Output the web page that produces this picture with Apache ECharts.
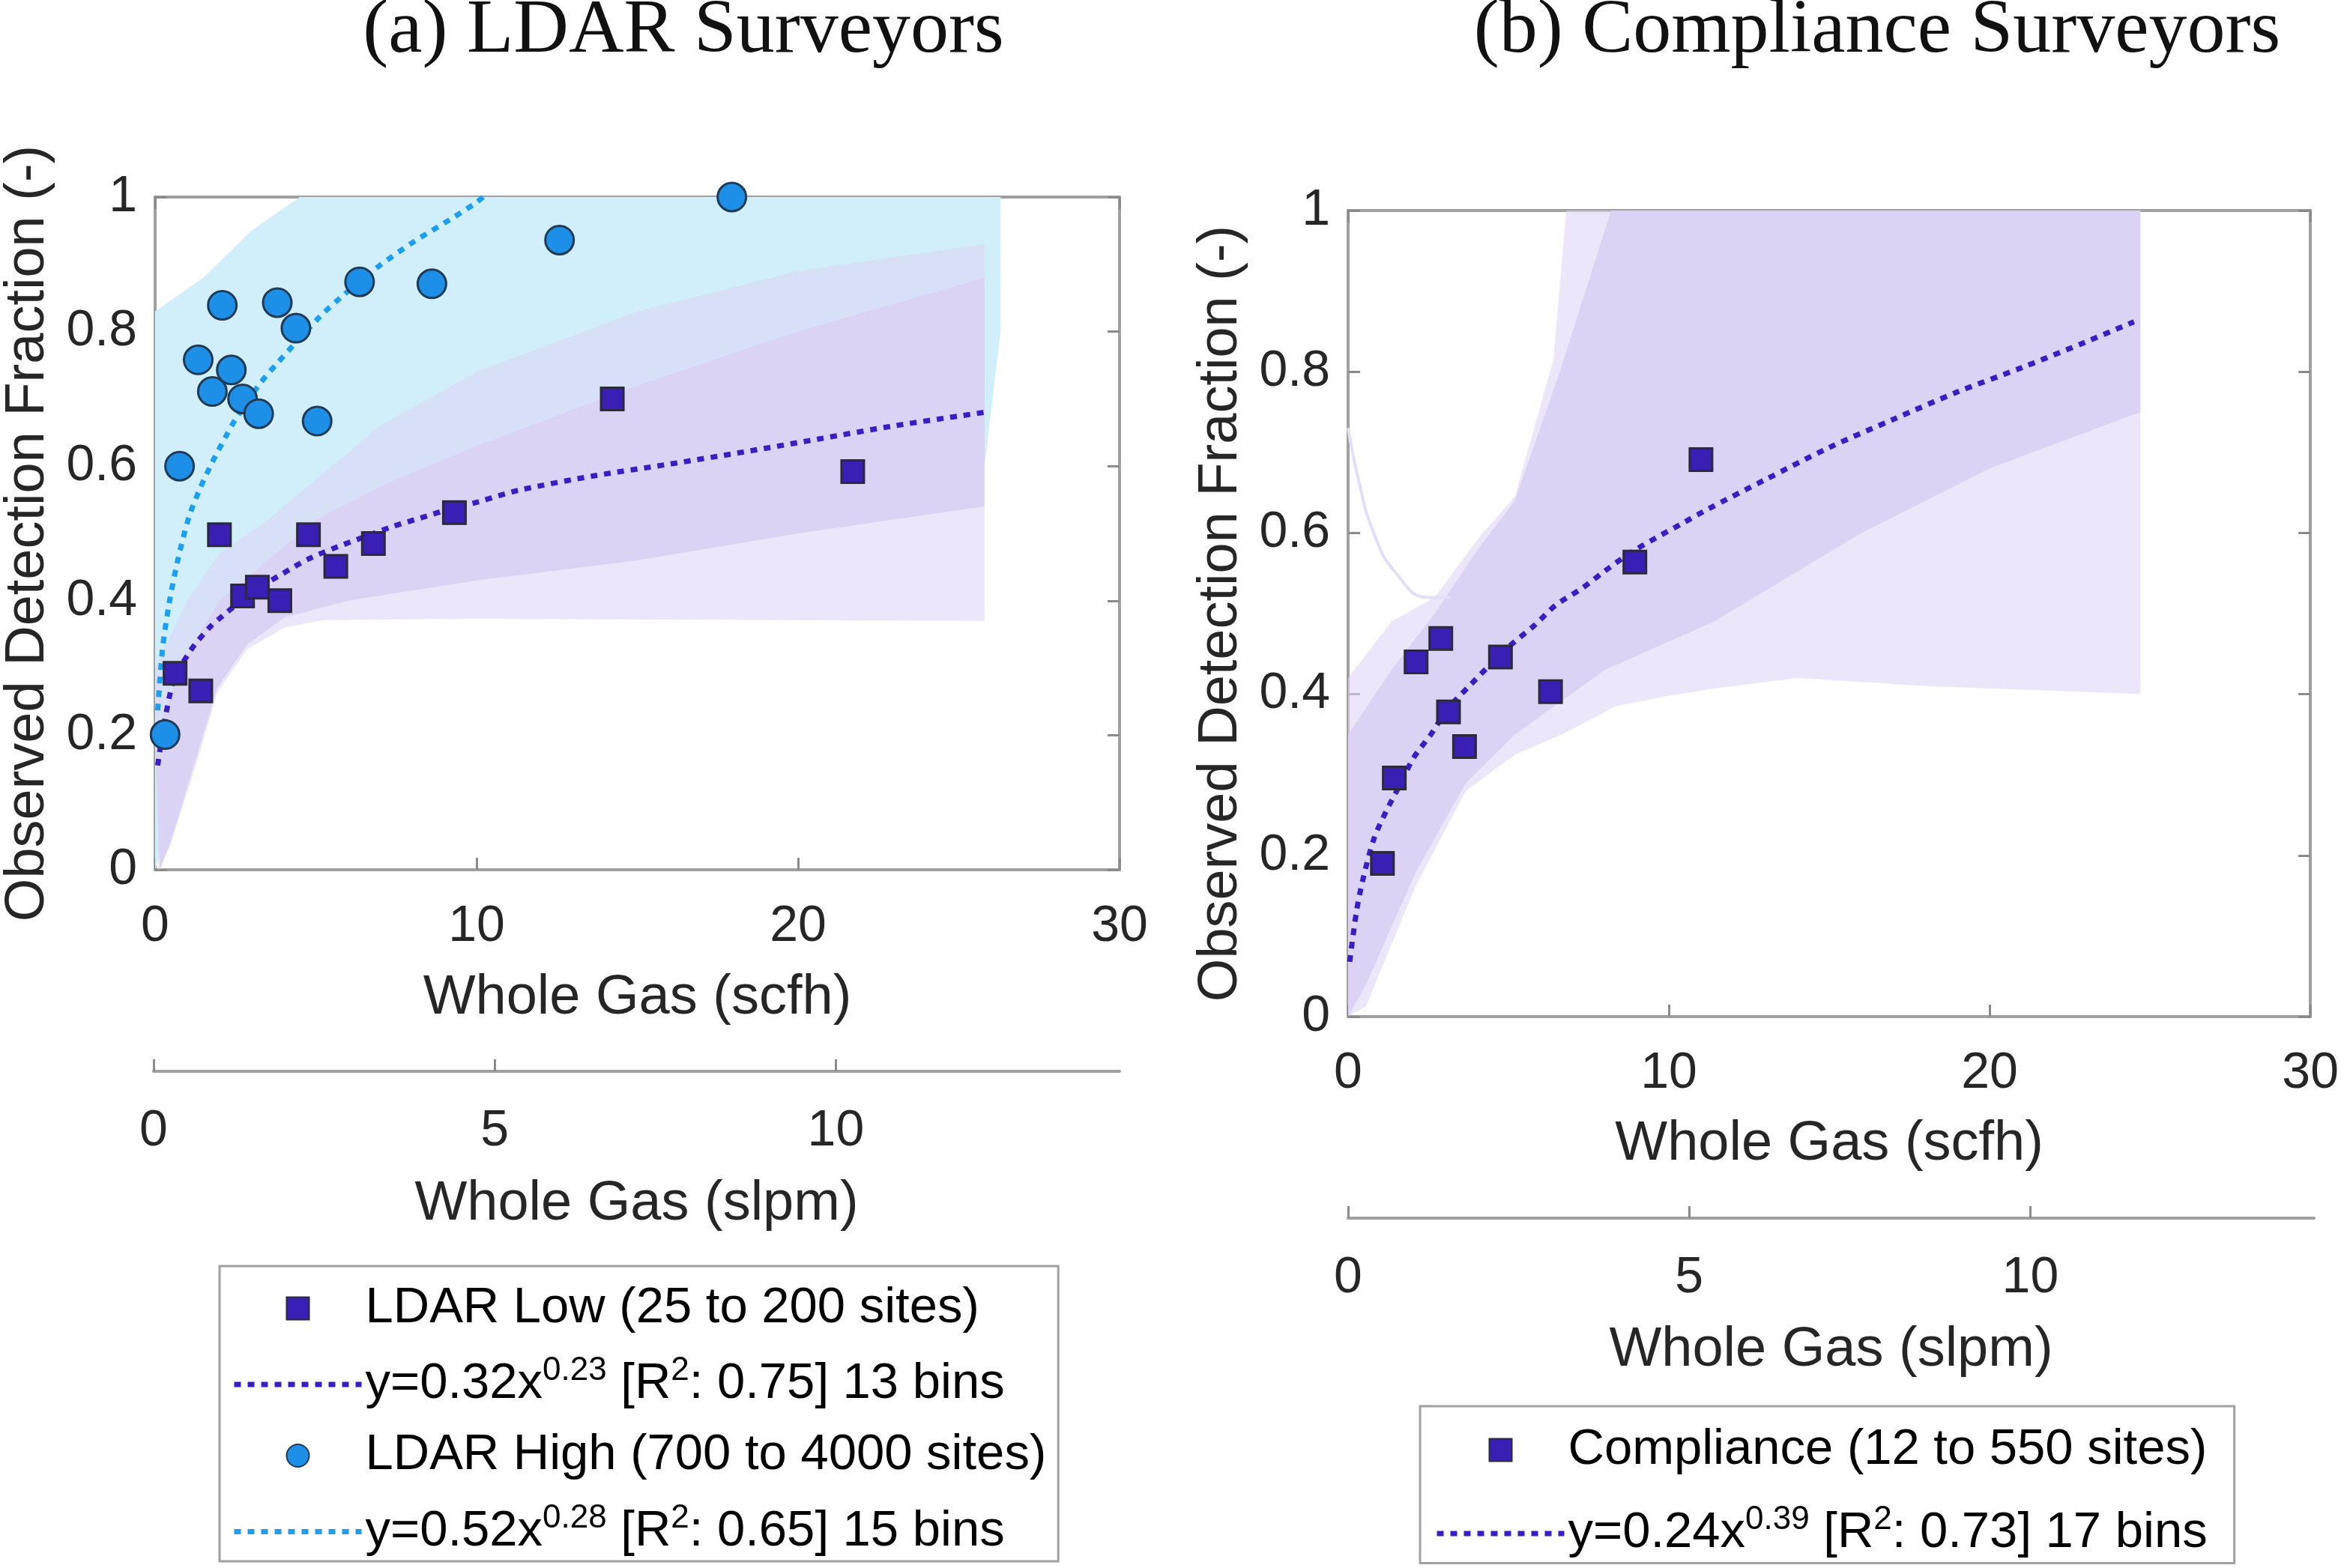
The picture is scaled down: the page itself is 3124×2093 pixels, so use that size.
<!DOCTYPE html>
<html><head><meta charset="utf-8">
<script src="https://cdn.jsdelivr.net/npm/echarts@6/dist/echarts.min.js"></script>
<style>html,body{margin:0;padding:0;background:#fff}#c{width:3124px;height:2093px}</style>
</head><body><div id="c"></div><script>
// ---------- data (x in scfh, y = observed detection fraction) ----------
const xTicksScfh = [0, 10, 20, 30];
const xTicksSlpm = [0, 5, 10];
const SCFH_PER_SLPM = 2.1189;

const ldarLowPts = [[0.62,0.292],[1.42,0.266],[2.0,0.498],[2.72,0.407],[3.18,0.42],[3.88,0.40],[4.77,0.498],[5.62,0.451],[6.79,0.485],[9.31,0.531],[14.22,0.70],[21.7,0.592]];
const ldarHighPts = [[0.31,0.201],[0.76,0.60],[1.34,0.758],[1.78,0.711],[2.09,0.839],[2.37,0.743],[2.72,0.70],[3.22,0.678],[3.8,0.843],[4.38,0.805],[5.04,0.667],[6.36,0.874],[8.61,0.871],[12.58,0.936],[17.94,1.0]];
const complPts = [[1.07,0.19],[1.44,0.296],[2.12,0.44],[2.89,0.469],[3.13,0.378],[3.63,0.335],[4.75,0.446],[6.31,0.403],[8.94,0.564],[11.0,0.691]];

const ldarLowFit = [[0.08,0.155],[0.54,0.276],[1.09,0.325],[1.71,0.361],[2.09,0.377],[3.03,0.413],[3.96,0.44],[4.77,0.462],[5.62,0.479],[6.52,0.495],[7.37,0.51],[8.26,0.523],[9.15,0.536],[10.05,0.547],[11.3,0.564],[13.7,0.586],[16,0.603],[18.3,0.621],[20.6,0.64],[23,0.66],[25.8,0.68]];
const ldarHighFit = [[0.08,0.237],[0.23,0.328],[0.43,0.394],[0.70,0.459],[1.05,0.524],[1.40,0.567],[1.78,0.606],[2.21,0.645],[2.48,0.668],[3.22,0.72],[3.80,0.753],[5.12,0.822],[5.78,0.851],[6.87,0.894],[8.03,0.933],[9.19,0.967],[10.0,0.992],[10.2,1.0]];
const complFit = [[0.05,0.068],[0.26,0.13],[0.45,0.168],[0.80,0.22],[1.19,0.255],[1.65,0.29],[2.04,0.321],[2.58,0.35],[3.13,0.383],[3.75,0.409],[4.44,0.437],[5.07,0.461],[5.80,0.485],[6.46,0.51],[7.28,0.531],[8.01,0.553],[8.79,0.575],[9.60,0.594],[10.38,0.611],[11.19,0.629],[13,0.666],[15,0.706],[17,0.741],[19,0.775],[21,0.805],[23,0.837],[24.5,0.862]];

// bootstrap envelopes
const highBandUpper = [[0,0.83],[1.5,0.88],[3,0.95],[4.5,1.0],[26.3,1.0]];
const highBandLower = [[0,0],[0.2,0.03],[0.8,0.16],[1.6,0.3],[2.5,0.4],[5,0.45],[25.8,0.6],[26.3,0.8]];
const lowBandOuterUpper = [[0,0.3],[1,0.4],[2,0.47],[3.5,0.52],[5,0.58],[7,0.66],[10,0.74],[15,0.83],[20,0.89],[25.8,0.93]];
const lowBandOuterLower = [[0.1,0],[0.47,0.035],[1.33,0.165],[1.93,0.263],[2.86,0.328],[4.03,0.36],[5.19,0.371],[10,0.373],[25.8,0.37]];
const lowBandInnerUpper = [[0,0.2],[1,0.32],[2,0.4],[3.5,0.46],[5,0.52],[7,0.57],[10,0.63],[15,0.72],[20,0.8],[25.8,0.88]];
const lowBandInnerLower = [[0.15,0],[0.5,0.045],[1.33,0.175],[1.93,0.27],[2.86,0.335],[4.03,0.375],[6,0.4],[10,0.43],[15,0.46],[20,0.5],[25.8,0.54]];
const complBandOuterUpper = [[0,0.42],[1.35,0.49],[2.7,0.52],[4.05,0.593],[5.2,0.645],[6.4,0.815],[6.8,1.0],[24.7,1.0]];
const complBandOuterLower = [[0,0],[0.56,0.013],[2.12,0.163],[3.67,0.28],[5.21,0.325],[6.77,0.352],[8.33,0.385],[9.87,0.397],[11.4,0.407],[14,0.42],[18,0.41],[24.7,0.40]];
const complBandInnerUpper = [[0,0.35],[1.35,0.43],[2.7,0.5],[4.05,0.58],[5.2,0.64],[6.6,0.8],[8.2,1.0],[24.7,1.0]];
const complBandInnerLower = [[0,0],[0.56,0.04],[2.12,0.18],[3.67,0.29],[5.2,0.35],[8,0.43],[11.4,0.49],[16,0.6],[20,0.68],[24.7,0.75]];
const complOutlierCurve = [[0,0.73],[0.3,0.67],[0.8,0.6],[1.5,0.55],[2.5,0.52],[3.2,0.52]];

const names = {
  low: 'LDAR Low (25 to 200 sites)', lowFit: 'fitLow',
  high: 'LDAR High (700 to 4000 sites)', highFit: 'fitHigh',
  comp: 'Compliance (12 to 550 sites)', compFit: 'fitCompl'
};
const legendText = {
  fitLow: '{t|y=0.32x}{s|0.23}{t| [R}{s|2}{t|: 0.75] 13 bins}',
  fitHigh: '{t|y=0.52x}{s|0.28}{t| [R}{s|2}{t|: 0.65] 15 bins}',
  fitCompl: '{t|y=0.24x}{s|0.39}{t| [R}{s|2}{t|: 0.73] 17 bins}'
};

// ---------- style ----------
const FONT = 'Liberation Sans, Arial, sans-serif';
const C = { text:'#262626', axis:'#a0a0a0', blue:'#d0effb', purpleIn:'#dbd3f3', purpleOut:'rgba(222,214,245,0.6)',
  sq:'#3a1fb4', circ:'#1e8fe6', lowLine:'#3a1ec4', highLine:'#1c9ff0' };
const SQUARE = 'path://M0,0H10V10H0Z';
const DOT = [9, 9];

function band(upper, lower, fill, xi, yi) {
  return { type:'custom', xAxisIndex:xi, yAxisIndex:yi, silent:true, data:[[0,0]], z:1,
    renderItem: (params, api) => {
      const pts = upper.map(p => api.coord(p)).concat(lower.slice().reverse().map(p => api.coord(p)));
      return { type:'polygon', shape:{ points: pts }, style:{ fill } };
    } };
}
const axisBase = (extra) => Object.assign({
  type:'value', splitLine:{show:false},
  axisLine:{show:true, onZero:false, lineStyle:{color:C.axis, width:4}},
  axisTick:{show:true, inside:true, length:16, lineStyle:{color:'#8a8a8a', width:3}},
  axisLabel:{color:C.text, fontSize:68, fontFamily:FONT},
  nameTextStyle:{color:C.text, fontSize:74, fontFamily:FONT}
}, extra);

const scfhAxis = (g, pos, labels, gap) => axisBase({ gridIndex:g, position:pos, min:0, max:30, interval:10,
  axisLabel:{show:labels, color:C.text, fontSize:68, fontFamily:FONT, margin:42},
  name: labels ? 'Whole Gas (scfh)' : '', nameLocation:'middle', nameGap:gap });
const slpmAxis = (g, gap) => axisBase({ gridIndex:g, position:'bottom', min:0, max:30/SCFH_PER_SLPM,
  axisTick:{show:true, inside:true, length:16, lineStyle:{color:'#8a8a8a', width:3}, customValues:xTicksSlpm},
  axisLabel:{color:C.text, fontSize:68, fontFamily:FONT, margin:46, customValues:xTicksSlpm},
  name:'Whole Gas (slpm)', nameLocation:'middle', nameGap:gap });
const fracAxis = (g, pos, labels) => axisBase({ gridIndex:g, position:pos, min:0, max:1, interval:0.2,
  axisLabel:{show:labels, color:C.text, fontSize:68, fontFamily:FONT, margin:24},
  name: labels ? 'Observed Detection Fraction (-)' : '', nameLocation:'middle', nameGap:132, nameRotate:90 });

const scatter = (name, data, symbol, size, color, border, xi, yi) => ({
  type:'scatter', name, data, symbol, symbolSize:size, xAxisIndex:xi, yAxisIndex:yi, z:5,
  itemStyle:{color, borderColor:border, borderWidth:3, opacity:1} });
const fitLine = (name, data, color, xi, yi) => ({
  type:'line', name, data, xAxisIndex:xi, yAxisIndex:yi, smooth:0.3, symbol:'none', z:4,
  lineStyle:{color, width:7, type:DOT}, itemStyle:{color} });

const lineItem = (name, color) => ({ name, itemStyle:{opacity:0, color:'transparent', borderWidth:0},
  lineStyle:{color, width:7, type:DOT} });
const legendBase = (data, left, top, padding, gap) => ({
  data, orient:'vertical', left, top, height:1200, padding, itemGap:gap, itemWidth:170, itemHeight:30,
  borderColor:'#a0a0a0', borderWidth:3, backgroundColor:'#fff', selectedMode:false,
  textStyle:{color:'#000', fontSize:67, fontFamily:FONT,
    rich:{ t:{fontSize:67, fontFamily:FONT, color:'#000', lineHeight:80},
           s:{fontSize:44, fontFamily:FONT, color:'#000', lineHeight:20, verticalAlign:'top'} } },
  formatter: n => legendText[n] || n
});

const option = {
  animation:false, backgroundColor:'#fff',
  grid:[
    {left:205, top:263, width:1289, height:898},
    {left:205, top:1429, width:1289, height:1},
    {left:1799, top:281, width:1289, height:1076},
    {left:1799, top:1625, width:1289, height:1}
  ],
  xAxis:[ scfhAxis(0,'bottom',true,135), scfhAxis(0,'top',false,0), slpmAxis(1,141),
          scfhAxis(2,'bottom',true,134), scfhAxis(2,'top',false,0), slpmAxis(3,140) ],
  yAxis:[ fracAxis(0,'left',true), fracAxis(0,'right',false), {gridIndex:1, show:false, min:0, max:1},
          fracAxis(2,'left',true), fracAxis(2,'right',false), {gridIndex:3, show:false, min:0, max:1} ],
  legend:[
    legendBase([{name:names.low, icon:SQUARE}, lineItem(names.lowFit, C.lowLine),
                {name:names.high, icon:'circle'}, lineItem(names.highFit, C.highLine)], 293, 1690, [23,16,6,16], 28),
    legendBase([{name:names.comp, icon:SQUARE}, lineItem(names.compFit, C.lowLine)], 1895, 1877, [25,36,6,19], 38)
  ],
  series:[
    band(highBandUpper, highBandLower, C.blue, 0, 0),
    band(lowBandOuterUpper, lowBandOuterLower, C.purpleOut, 0, 0),
    band(lowBandInnerUpper, lowBandInnerLower, C.purpleIn, 0, 0),
    fitLine(names.lowFit, ldarLowFit, C.lowLine, 0, 0),
    fitLine(names.highFit, ldarHighFit, C.highLine, 0, 0),
    scatter(names.low, ldarLowPts, 'rect', 30, C.sq, '#2a2a3a', 0, 0),
    scatter(names.high, ldarHighPts, 'circle', 38, C.circ, '#1f3a55', 0, 0),
    band(complBandOuterUpper, complBandOuterLower, C.purpleOut, 3, 3),
    band(complBandInnerUpper, complBandInnerLower, C.purpleIn, 3, 3),
    { type:'line', data:complOutlierCurve, xAxisIndex:3, yAxisIndex:3, smooth:true, symbol:'none', silent:true, z:2,
      lineStyle:{color:'#e4def7', width:4} },
    fitLine(names.compFit, complFit, C.lowLine, 3, 3),
    scatter(names.comp, complPts, 'rect', 30, C.sq, '#2a2a3a', 3, 3)
  ],
  graphic:[
    { type:'text', x:912, y:42, style:{ text:'(a) LDAR Surveyors', fontSize:102, fontFamily:'Liberation Serif, serif', fill:'#111', align:'center', verticalAlign:'middle' } },
    { type:'text', x:2505, y:42, style:{ text:'(b) Compliance Surveyors', fontSize:102, fontFamily:'Liberation Serif, serif', fill:'#111', align:'center', verticalAlign:'middle' } }
  ]
};
echarts.init(document.getElementById('c')).setOption(option);
</script></body></html>
